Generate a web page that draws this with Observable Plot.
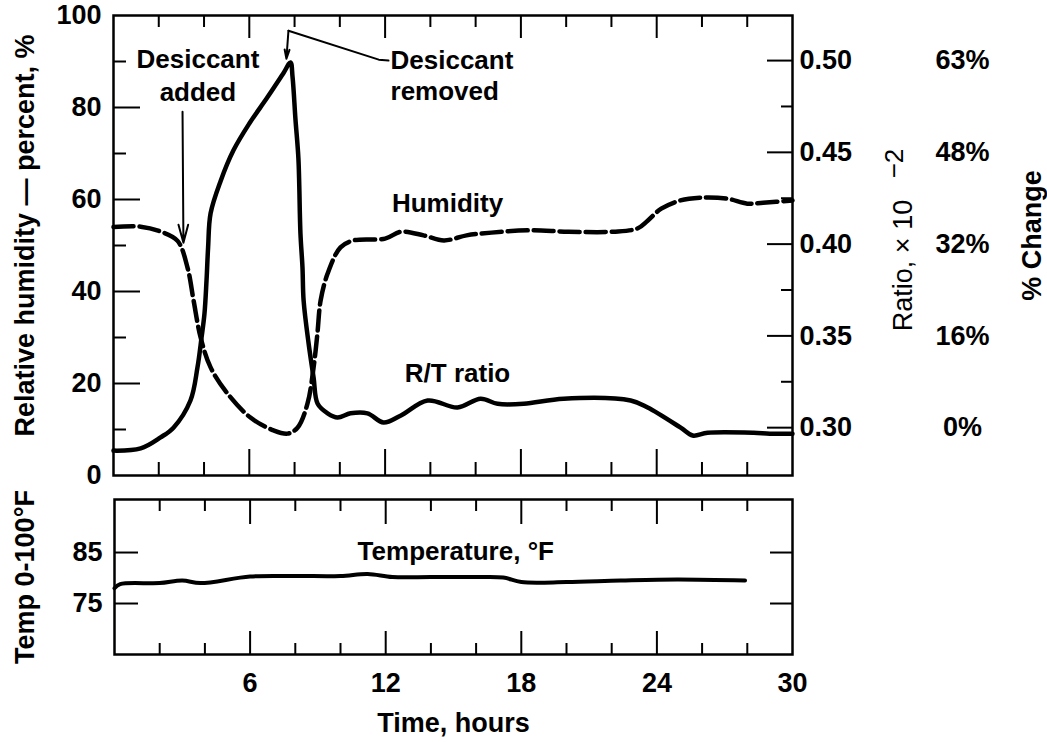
<!DOCTYPE html>
<html>
<head>
<meta charset="utf-8">
<script src="https://cdn.jsdelivr.net/npm/d3@7"></script>
<script src="https://cdn.jsdelivr.net/npm/@observablehq/plot@0.6"></script>
<style>
  body { margin: 0; background: #fff; }
  #chart { position: relative; width: 1047px; height: 742px; background: #fff; }
  #chart svg { display: block; }
</style>
</head>
<body>
<div id="chart"></div>
<script>
// ---------------- data ----------------
// Relative humidity (dashed), percent
const humidityHours = [0, 1.2, 2.1, 2.83, 3.27, 3.54, 3.85, 4.29, 5.04, 6.05, 7.07, 7.69, 8.13, 8.57, 8.84, 9.01, 9.15, 9.46, 10.03, 10.6, 12.0, 12.7, 13.7, 14.6, 15.6, 16.7, 18.4, 20.1, 22.1, 23.15, 23.6, 24.2, 25.05, 25.9, 27.1, 28.0, 28.7, 30];
const humidityPct   = [54.0, 54.1, 53.0, 51.0, 45.2, 38.0, 30.0, 23.5, 17.8, 12.6, 9.8, 9.1, 10.4, 15.6, 23.5, 30.9, 38.0, 43.9, 49.6, 51.1, 51.5, 53.0, 52.2, 51.1, 52.2, 52.8, 53.3, 53.0, 53.0, 53.7, 55.4, 58.0, 59.8, 60.4, 60.2, 59.1, 59.3, 59.8];

// R/T ratio (solid), ratio x 10^-2 (right axis)
const ratioHours  = [0, 1.2, 2.08, 2.65, 3.4, 3.71, 3.89, 4.02, 4.11, 4.18, 4.29, 4.73, 5.3, 6.0, 6.8, 7.5, 7.82, 7.91, 8.04, 8.17, 8.26, 8.35, 8.4, 8.62, 8.84, 9.02, 9.46, 9.9, 10.47, 11.22, 11.93, 12.68, 13.88, 15.2, 16.22, 16.97, 18.12, 19.89, 22.85, 23.6, 25.06, 25.59, 26.25, 28.28, 29.0, 30];
const ratioValues = [0.2875, 0.2887, 0.2947, 0.300, 0.3148, 0.3328, 0.3491, 0.3622, 0.3802, 0.3982, 0.4168, 0.4343, 0.4511, 0.4657, 0.4800, 0.4930, 0.4990, 0.4912, 0.4679, 0.4466, 0.4058, 0.3872, 0.3692, 0.3459, 0.3273, 0.3130, 0.3078, 0.3055, 0.3078, 0.3078, 0.3028, 0.3065, 0.3148, 0.3110, 0.3158, 0.3130, 0.3130, 0.3158, 0.3148, 0.3110, 0.3000, 0.2957, 0.2972, 0.2972, 0.2967, 0.2967];

// Temperature, deg F
const tempHours = [0, 0.25, 2, 3.0, 3.8, 6.0, 8, 10, 11.2, 12.3, 14, 16, 17.2, 18.0, 20.0, 22.4, 24.9, 27.9];
const tempF     = [78.0, 78.8, 79.0, 79.5, 79.0, 80.3, 80.4, 80.4, 80.8, 80.2, 80.2, 80.2, 80.1, 79.2, 79.2, 79.5, 79.7, 79.5];

// ticks and labels
const xTickLabels   = [6, 12, 18, 24, 30];
const hourMajor     = [6, 12, 18, 24];
const hourMinor     = [2, 4, 8, 10, 14, 16, 20, 22, 26, 28];
const humidityTicks = [0, 20, 40, 60, 80, 100];
const pctMajor      = [20, 40, 60, 80];
const pctMinor      = [10, 30, 50, 70, 90];
const ratioTicks    = [0.30, 0.35, 0.40, 0.45, 0.50];
const ratioMinor    = [0.325, 0.375, 0.425, 0.475];
const ratioTickLabels = ["0.30", "0.35", "0.40", "0.45", "0.50"];
const changeLabels  = ["0%", "16%", "32%", "48%", "63%"];
const tempTicks     = [75, 85];

// annotations (data coordinates: hours, percent / deg F)
const lineLabels = [
  {hour: 14.76, value: 59.1, text: "Humidity"},
  {hour: 15.2, value: 22.2, text: "R/T ratio"}
];
const addedLabel   = [{hour: 3.73, value: 90.4, text: "Desiccant"}, {hour: 3.73, value: 83.3, text: "added"}];
const addedArrow   = [{x1: 3.05, y1: 79.1, x2: 3.09, y2: 50.6}];
const removedLabel = [{hour: 12.24, value: 90.2, text: "Desiccant"}, {hour: 12.24, value: 83.5, text: "removed"}];
const removedLeader = [{hour: 12.15, value: 90.2}, {hour: 11.72, value: 90.4}, {hour: 7.73, value: 96.7}];
const removedArrow = [{x1: 7.73, y1: 96.7, x2: 7.64, y2: 90.6}];
const tempLabel    = [{hour: 15.1, value: 85.2, text: "Temperature, °F"}];

// ---------------- build ----------------
const FONT = "'Liberation Sans', Arial, Helvetica, sans-serif";
const W = 1047;
const xLeft = 113, xRight = 792;
const FW = xRight - xLeft;

// ratio (right axis) expressed in the left-axis percent units
const ratioToPct = r => 10.4 + (r - 0.30) * 399;

const humidity = humidityHours.map((h, i) => ({hour: h, value: humidityPct[i]}));
const ratio = ratioHours.map((h, i) => ({hour: h, value: ratioToPct(ratioValues[i])}));
const temp = tempHours.map((h, i) => ({hour: h, value: tempF[i]}));

const TOP_H = 490, TOP_MT = 15, TOP_MB = 15;
const TFH = TOP_H - TOP_MT - TOP_MB;

const tickStyle = {stroke: "black", strokeWidth: 2};
const bold = {fontFamily: FONT, fontWeight: "bold", fill: "black"};
const centered = {textAnchor: "middle", lineAnchor: "middle"};

const topPlot = Plot.plot({
  width: W, height: TOP_H,
  marginLeft: xLeft, marginRight: W - xRight, marginTop: TOP_MT, marginBottom: TOP_MB,
  x: {domain: [0, 30], axis: null},
  y: {domain: [0, 100], axis: null},
  style: {fontFamily: FONT, background: "white", color: "black", overflow: "visible"},
  marks: [
    // ticks (inward)
    Plot.tickX(hourMinor, {x: d => d, insetTop: TFH - 13, ...tickStyle}),
    Plot.tickX(hourMajor, {x: d => d, insetTop: TFH - 26, ...tickStyle}),
    Plot.tickX(hourMinor, {x: d => d, insetBottom: TFH - 12, ...tickStyle}),
    Plot.tickX(hourMajor, {x: d => d, insetBottom: TFH - 23, ...tickStyle}),
    Plot.tickY(pctMinor, {y: d => d, insetRight: FW - 13, ...tickStyle}),
    Plot.tickY(pctMajor, {y: d => d, insetRight: FW - 27, ...tickStyle}),
    Plot.tickY(ratioMinor, {y: ratioToPct, insetLeft: FW - 11, ...tickStyle}),
    Plot.tickY(ratioTicks, {y: ratioToPct, insetLeft: FW - 25, ...tickStyle}),
    Plot.frame({stroke: "black", strokeWidth: 2.5}),
    // left tick labels
    Plot.text(humidityTicks, {y: d => d, text: d => String(d), frameAnchor: "left", dx: -12, textAnchor: "end", lineAnchor: "middle", fontSize: 27, ...bold}),
    // right tick labels
    Plot.text(ratioTicks, {y: ratioToPct, text: (d, i) => ratioTickLabels[i], frameAnchor: "right", dx: 7, textAnchor: "start", lineAnchor: "middle", fontSize: 27, ...bold}),
    Plot.text(ratioTicks, {y: ratioToPct, text: (d, i) => changeLabels[i], frameAnchor: "right", dx: 170, ...centered, fontSize: 27, ...bold}),
    // axis titles
    Plot.text(["Relative humidity — percent, %"], {text: d => d, frameAnchor: "left", dx: -88, dy: -10, rotate: -90, ...centered, fontSize: 27, ...bold}),
    Plot.text(["Ratio, × 10"], {text: d => d, frameAnchor: "right", dx: 111, dy: 20, rotate: -90, ...centered, fontSize: 27, fontFamily: FONT, fill: "black"}),
    Plot.text(["−2"], {text: d => d, frameAnchor: "right", dx: 102, dy: -82, rotate: -90, ...centered, fontSize: 26, fontFamily: FONT, fill: "black"}),
    Plot.text(["% Change"], {text: d => d, frameAnchor: "right", dx: 240, dy: -10, rotate: -90, ...centered, fontSize: 27, ...bold}),
    // data lines
    Plot.line(humidity, {x: "hour", y: "value", stroke: "black", strokeWidth: 4.5, strokeDasharray: "20 6", curve: "catmull-rom"}),
    Plot.line(ratio, {x: "hour", y: "value", stroke: "black", strokeWidth: 4.5, curve: "catmull-rom"}),
    // line labels
    Plot.text(lineLabels, {x: "hour", y: "value", text: "text", ...centered, fontSize: 26, ...bold}),
    // annotations
    Plot.text(addedLabel, {x: "hour", y: "value", text: "text", ...centered, fontSize: 26, ...bold}),
    Plot.arrow(addedArrow, {x1: "x1", y1: "y1", x2: "x2", y2: "y2", stroke: "black", strokeWidth: 2, headLength: 14, headAngle: 30}),
    Plot.text(removedLabel, {x: "hour", y: "value", text: "text", textAnchor: "start", lineAnchor: "middle", fontSize: 26, ...bold}),
    Plot.line(removedLeader, {x: "hour", y: "value", stroke: "black", strokeWidth: 2}),
    Plot.arrow(removedArrow, {x1: "x1", y1: "y1", x2: "x2", y2: "y2", stroke: "black", strokeWidth: 2, headLength: 14, headAngle: 30})
  ]
});

const BOT_H = 252, BOT_MT = 9, BOT_MB = 88;
const BFH = BOT_H - BOT_MT - BOT_MB;

const bottomPlot = Plot.plot({
  width: W, height: BOT_H,
  marginLeft: xLeft + 1, marginRight: W - xRight, marginTop: BOT_MT, marginBottom: BOT_MB,
  x: {domain: [0, 30], axis: null},
  y: {domain: [65, 95.4], axis: null},
  style: {fontFamily: FONT, background: "white", color: "black", overflow: "visible"},
  marks: [
    Plot.tickX(hourMinor, {x: d => d, insetTop: BFH - 11, ...tickStyle}),
    Plot.tickX(hourMajor, {x: d => d, insetTop: BFH - 23, ...tickStyle}),
    Plot.tickX(hourMinor, {x: d => d, insetBottom: BFH - 12, ...tickStyle}),
    Plot.tickX(hourMajor, {x: d => d, insetBottom: BFH - 25, ...tickStyle}),
    Plot.tickY(tempTicks, {y: d => d, insetRight: FW - 25, ...tickStyle}),
    Plot.tickY(tempTicks, {y: d => d, insetLeft: FW - 23, ...tickStyle}),
    Plot.frame({stroke: "black", strokeWidth: 2.5}),
    Plot.text(tempTicks, {y: d => d, text: d => String(d), frameAnchor: "left", dx: -12, textAnchor: "end", lineAnchor: "middle", fontSize: 27, ...bold}),
    Plot.text(xTickLabels, {x: d => d, text: d => String(d), frameAnchor: "bottom", dy: 29, ...centered, fontSize: 27, ...bold}),
    Plot.text(["Time, hours"], {text: d => d, frameAnchor: "bottom", dy: 69, ...centered, fontSize: 27, ...bold}),
    Plot.text(["Temp 0-100°F"], {text: d => d, frameAnchor: "left", dx: -89, rotate: -90, ...centered, fontSize: 27, ...bold}),
    Plot.line(temp, {x: "hour", y: "value", stroke: "black", strokeWidth: 4, curve: "catmull-rom"}),
    Plot.text(tempLabel, {x: "hour", y: "value", text: "text", ...centered, fontSize: 26, ...bold})
  ]
});

const chart = document.getElementById("chart");
chart.appendChild(topPlot);
chart.appendChild(bottomPlot);
</script>
</body>
</html>
